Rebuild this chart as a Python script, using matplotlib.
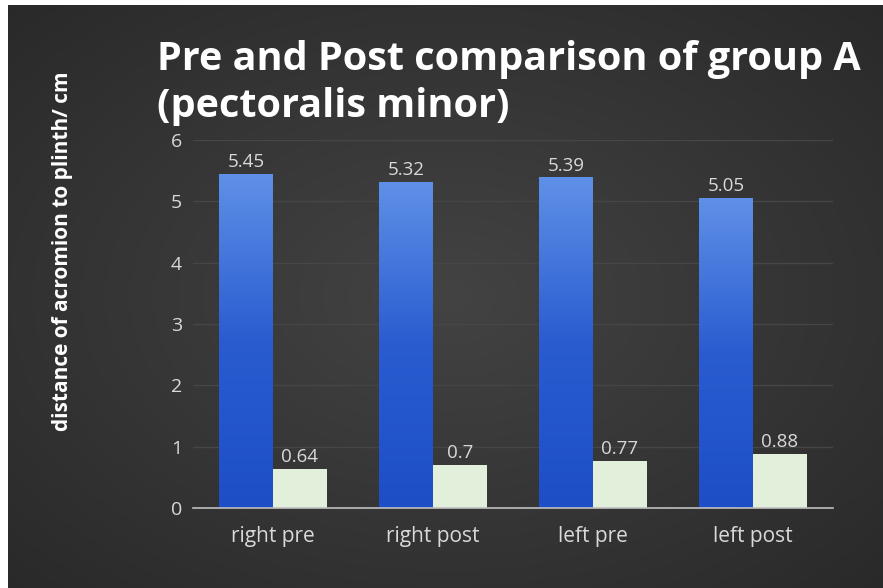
import matplotlib
matplotlib.use("Agg")
import matplotlib.pyplot as plt
import numpy as np
from matplotlib.colors import LinearSegmentedColormap

categories = ["right pre", "right post", "left pre", "left post"]
series_a = [5.45, 5.32, 5.39, 5.05]
series_b = [0.64, 0.7, 0.77, 0.88]
yticks = [0, 1, 2, 3, 4, 5, 6]
title = "Pre and Post comparison of group A\n(pectoralis minor)"
ylabel = "distance of acromion to plinth/ cm"

FONT = ["Open Sans", "DejaVu Sans"]
plt.rcParams['font.family'] = FONT

W, H = 883, 588
fig = plt.figure(figsize=(W / 100, H / 100), dpi=100)
fig.patch.set_facecolor("white")

# background with soft radial gradient
bg = fig.add_axes([8 / W, 0, 1 - 8 / W, 1 - 5 / H])
bg.set_axis_off()
yy, xx = np.mgrid[0:1:300j, 0:1:450j]
r = np.sqrt(((xx - 0.5) / 0.75) ** 2 + ((yy - 0.5) / 0.75) ** 2)
val = np.clip(1 - r, 0, 1)
bgcmap = LinearSegmentedColormap.from_list("bg", ["#282828", "#434343"])
bg.imshow(val, cmap=bgcmap, aspect="auto", extent=[0, 1, 0, 1], vmin=0, vmax=1)
bg.set_xlim(0, 1)
bg.set_ylim(0, 1)

ax = fig.add_axes([193 / W, 1 - 508 / H, 640 / W, 368 / H])
ax.set_facecolor("none")
x = np.arange(len(categories))
w = 0.3375
bars_a = ax.bar(x - w / 2, series_a, w, color="#3f6fd6", zorder=2)
bars_b = ax.bar(x + w / 2, series_b, w, color="#e2efda", zorder=2)

# vertical gradient on blue bars
grad = np.linspace(1, 0, 256).reshape(-1, 1)
bcmap = LinearSegmentedColormap.from_list("blue", ["#1d4ec6", "#2a5cd0", "#5f90e8"])
for p in bars_a:
    bb = p.get_bbox()
    im = ax.imshow(grad, cmap=bcmap, aspect="auto",
                   extent=[bb.x0, bb.x1, bb.y0, bb.y1], zorder=2.5,
                   origin="upper", vmin=0, vmax=1)
    im.set_clip_path(p)

ax.set_xlim(-0.5, len(categories) - 0.5)
ax.set_ylim(0, 6)
ax.set_yticks(yticks)
ax.set_xticks(x)
ax.set_xticklabels(categories)
ax.grid(axis="y", color="#464646", linewidth=1, zorder=0)
for s in ["top", "right", "left"]:
    ax.spines[s].set_visible(False)
ax.spines["bottom"].set_color("#bfbfbf")
ax.spines["bottom"].set_linewidth(1.2)
ax.tick_params(axis="y", length=0, colors="#d9d9d9", labelsize=14, pad=8)
ax.tick_params(axis="x", length=0, colors="#d9d9d9", labelsize=15, pad=13)

for bars, vals in ((bars_a, series_a), (bars_b, series_b)):
    for p, v in zip(bars, vals):
        ax.annotate(f"{v:g}", (p.get_x() + p.get_width() / 2, v), xytext=(0, 2),
                    textcoords="offset points", ha="center", va="bottom",
                    color="#d9d9d9", fontsize=13.5, zorder=4)

fig.text(157 / W, 1 - 40 / H, title, ha="left", va="top", color="white",
         fontsize=28.5, fontweight="bold", linespacing=1.27)
fig.text(63 / W, 1 - 251 / H, ylabel, rotation=90, ha="center", va="center",
         color="white", fontsize=15, fontweight="bold")

fig.savefig("out.png", dpi=100, facecolor=fig.get_facecolor())
